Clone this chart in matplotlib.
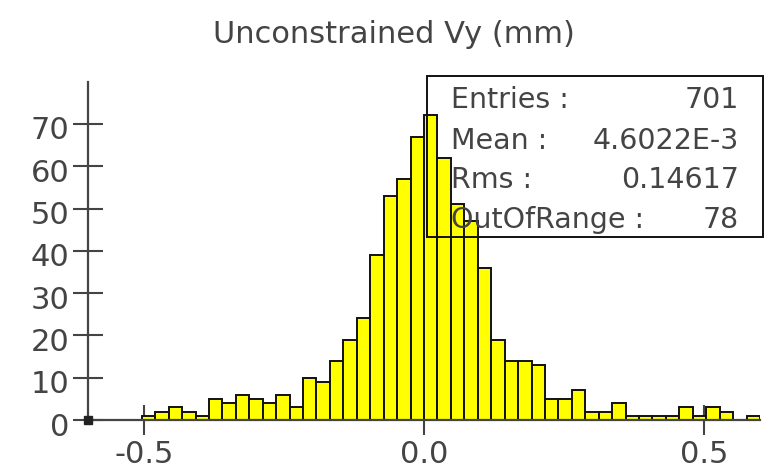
import matplotlib
matplotlib.use("Agg")
import matplotlib.pyplot as plt
import matplotlib.transforms as mtransforms
from matplotlib.patches import Rectangle
import numpy as np

# Histogram of unconstrained Vy: 50 bins over [-0.6, 0.6]
x_min, x_max, n_bins = -0.6, 0.6, 50
counts = [
    0, 0, 0, 0, 1, 2, 3, 2, 1, 5,
    4, 6, 5, 4, 6, 3, 10, 9, 14, 19,
    24, 39, 53, 57, 67, 72, 62, 51, 47, 36,
    19, 14, 14, 13, 5, 5, 7, 2, 2, 4,
    1, 1, 1, 1, 3, 1, 3, 2, 0, 1,
]
x_ticks = [-0.5, 0.0, 0.5]
y_ticks = [0, 10, 20, 30, 40, 50, 60, 70]

stat_labels = ["Entries :", "Mean :", "Rms :", "OutOfRange :"]
stat_values = ["701", "4.6022E-3", "0.14617", "78"]

title = "Unconstrained Vy (mm)"

W, H = 765, 474
DPI = 100
AXIS_COLOR = "#444444"
TEXT_COLOR = "#444444"

plt.rcParams["axes.unicode_minus"] = False
fig = plt.figure(figsize=(W / DPI, H / DPI), dpi=DPI)

# axes placed in pixel units (from left / bottom)
ax = fig.add_axes([88 / W, 54 / H, 672 / W, 338.4 / H])

edges = np.linspace(x_min, x_max, n_bins + 1)
width = edges[1] - edges[0]
ax.bar(edges[:-1], counts, width=width, align="edge",
       color="#ffff00", edgecolor="#111111", linewidth=1.4, zorder=2)

ax.set_xlim(x_min, x_max)
ax.set_ylim(0, 80)
ax.set_xticks(x_ticks)
ax.set_xticklabels([f"{t:.1f}" for t in x_ticks])
ax.set_yticks(y_ticks)

for side in ["top", "right"]:
    ax.spines[side].set_visible(False)
for side in ["left", "bottom"]:
    ax.spines[side].set_color(AXIS_COLOR)
    ax.spines[side].set_linewidth(1.6)
    ax.spines[side].set_zorder(3)

ax.tick_params(axis="both", direction="inout", length=21, width=1.5,
               color=AXIS_COLOR, labelsize=22, labelcolor=TEXT_COLOR)
ax.tick_params(axis="x", pad=4)
ax.tick_params(axis="y", pad=3)

# y labels sit a little below their ticks
shift = mtransforms.ScaledTranslation(0, -4 / DPI, fig.dpi_scale_trans)
for lbl in ax.get_yticklabels():
    lbl.set_transform(lbl.get_transform() + shift)

# small square at the origin
ax.plot([x_min], [0], marker="s", markersize=5.5, color="#222222",
        clip_on=False, zorder=4)

fig.text(394 / W, 1 - 43 / H, title, ha="center", va="baseline",
         fontsize=22, color=TEXT_COLOR)

# statistics box
box = Rectangle((427 / W, 1 - 237 / H), (763 - 427) / W, (237 - 76) / H,
                transform=fig.transFigure, fill=False, edgecolor="#111111",
                linewidth=1.4, zorder=5)
fig.add_artist(box)
baselines = [108, 149, 188, 228]
for lab, val, yb in zip(stat_labels, stat_values, baselines):
    fig.text(451 / W, 1 - yb / H, lab, ha="left", va="baseline",
             fontsize=20.5, color=TEXT_COLOR, zorder=6)
    fig.text(739 / W, 1 - yb / H, val, ha="right", va="baseline",
             fontsize=20.5, color=TEXT_COLOR, zorder=6)

fig.savefig("out.png", dpi=DPI)
